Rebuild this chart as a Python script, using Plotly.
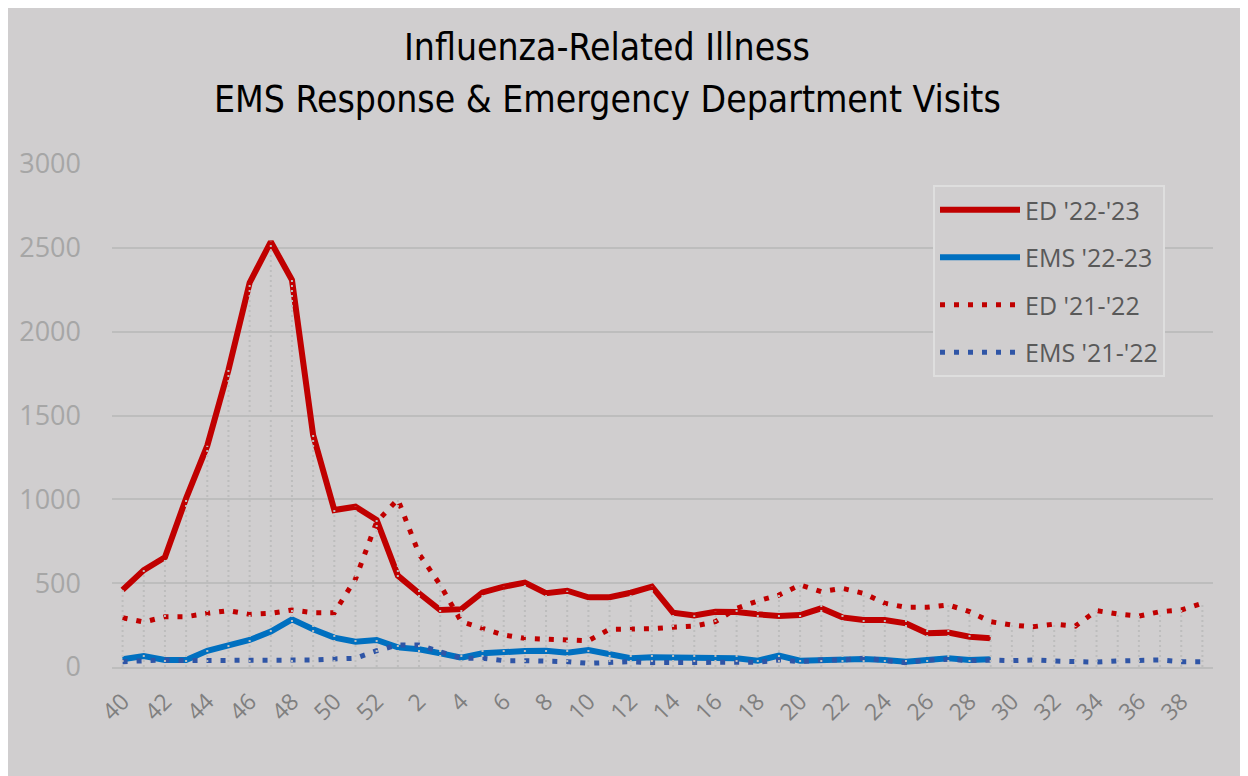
import plotly.graph_objects as go

# ---- data ----
weeks = [str(w) for w in list(range(40, 53)) + list(range(1, 40))]

ed_22_23 = [460, 578, 654, 1006, 1320, 1771, 2292, 2536, 2308, 1383, 936, 956, 877,
            545, 440, 340, 345, 445, 479, 503, 440, 455, 416, 416, 443, 479, 324, 308,
            330, 328, 314, 304, 310, 350, 296, 280, 280, 260, 201, 205, 181, 171]

ems_22_23 = [46, 66, 42, 42, 97, 131, 161, 211, 284, 225, 175, 151, 161,
             117, 106, 82, 55, 82, 91, 95, 97, 85, 101, 72, 52, 58, 58, 52,
             52, 52, 38, 68, 38, 42, 42, 48, 42, 32, 42, 52, 42, 46]

ed_21_22 = [294, 268, 300, 300, 320, 336, 314, 320, 340, 324, 324, 525, 865,
            1000, 675, 490, 270, 227, 191, 171, 165, 161, 157, 225, 225, 228, 237, 244,
            270, 350, 394, 429, 489, 449, 469, 439, 380, 356, 356, 370, 330, 270,
            250, 240, 256, 244, 336, 316, 304, 330, 340, 380]

ems_21_22 = [32, 36, 42, 38, 38, 42, 42, 38, 42, 42, 48, 52, 97,
             131, 131, 91, 52, 52, 38, 38, 38, 32, 22, 26, 32, 26, 26, 26,
             32, 32, 29, 42, 32, 42, 42, 52, 38, 26, 42, 46, 38, 42,
             38, 42, 36, 29, 29, 36, 38, 42, 32, 32]

tick_labels = weeks[::2]
y_ticks = [0, 500, 1000, 1500, 2000, 2500, 3000]

title_1 = "Influenza-Related Illness"
title_2 = "EMS Response & Emergency Department Visits"

# ---- layout constants (page pixels; the page body has an 8px margin) ----
OFF = 8
W, H = 1248 - OFF, 776 - OFF
PLOT_L, PLOT_R, PLOT_T, PLOT_B = 112, 1213, 164, 667
ML, MR = PLOT_L - OFF, (1248 - PLOT_R)
MT, MB = PLOT_T - OFF, (776 - PLOT_B)
PW, PH = PLOT_R - PLOT_L, PLOT_B - PLOT_T


def px_x(p):
    return (p - PLOT_L) / PW


def px_y(p):
    return (PLOT_B - p) / PH


BG = "#d0cecf"
RED = "#c00000"
BLUE = "#0070c0"
DBLUE = "#2f55a6"
TITLE_FONT = "DejaVu Sans Condensed, Liberation Sans Narrow, Open Sans, sans-serif"
TEXT_FONT = "Open Sans, sans-serif"

fig = go.Figure()

fig.add_trace(go.Scatter(x=weeks[:len(ed_22_23)], y=ed_22_23, name="ED '22-'23",
                         mode="lines", line=dict(color=RED, width=6),
                         legendgroup="a"))
fig.add_trace(go.Scatter(x=weeks[:len(ems_22_23)], y=ems_22_23, name="EMS '22-23",
                         mode="lines", line=dict(color=BLUE, width=6),
                         legendgroup="b"))
fig.add_trace(go.Scatter(x=weeks, y=ed_21_22, name="ED '21-'22",
                         mode="lines", line=dict(color=RED, width=5, dash="5px,9px"),
                         legendgroup="c"))
fig.add_trace(go.Scatter(x=weeks, y=ems_21_22, name="EMS '21-'22",
                         mode="lines", line=dict(color=DBLUE, width=5, dash="5px,9px"),
                         legendgroup="d"))

# drop lines (from the highest series value at each week down to the axis)
series = [ed_22_23, ems_22_23, ed_21_22, ems_21_22]
dx, dy = [], []
for i, w in enumerate(weeks):
    top = max(s[i] for s in series if i < len(s))
    dx += [w, w, None]
    dy += [0, top, None]
fig.add_trace(go.Scatter(x=dx, y=dy, mode="lines", showlegend=False,
                         hoverinfo="skip",
                         line=dict(color="#bdbdbd", width=2, dash="2px,3px")))

fig.update_layout(
    width=W, height=H,
    margin=dict(l=ML, r=MR, t=MT, b=MB),
    paper_bgcolor=BG, plot_bgcolor=BG,
    showlegend=True,
    legend=dict(x=px_x(933), y=px_y(185), xanchor="left", yanchor="top",
                bgcolor=BG, bordercolor="#dedede", borderwidth=2,
                font=dict(family=TEXT_FONT, size=25, color="#595959"),
                itemwidth=80, tracegroupgap=12, traceorder="grouped"),
    xaxis=dict(type="category", categoryorder="array", categoryarray=weeks,
               range=[-0.5, 51.5], tickmode="array", tickvals=tick_labels,
               ticktext=tick_labels, tickangle=-45,
               tickfont=dict(family=TEXT_FONT, size=23, color="#7f7f7f"),
               showgrid=False, showline=True, linecolor="#bdbdbd", linewidth=2,
               ticks="", ticklabelstandoff=10, zeroline=False),
    yaxis=dict(range=[0, 3000], tickvals=y_ticks, showgrid=True,
               gridcolor="#bdbdbd", gridwidth=2,
               tickfont=dict(family=TEXT_FONT, size=27, color="#a6a6a6"),
               ticklabelstandoff=30, zeroline=False, showline=False),
    annotations=[
        dict(text=title_1, xref="paper", yref="paper", x=px_x(607), y=px_y(47),
             showarrow=False, xanchor="center", yanchor="middle",
             font=dict(family=TITLE_FONT, size=37, color="#000000")),
        dict(text=title_2, xref="paper", yref="paper", x=px_x(607), y=px_y(100),
             showarrow=False, xanchor="center", yanchor="middle",
             font=dict(family=TITLE_FONT, size=37, color="#000000")),
    ],
)

fig.write_html("out.html")
